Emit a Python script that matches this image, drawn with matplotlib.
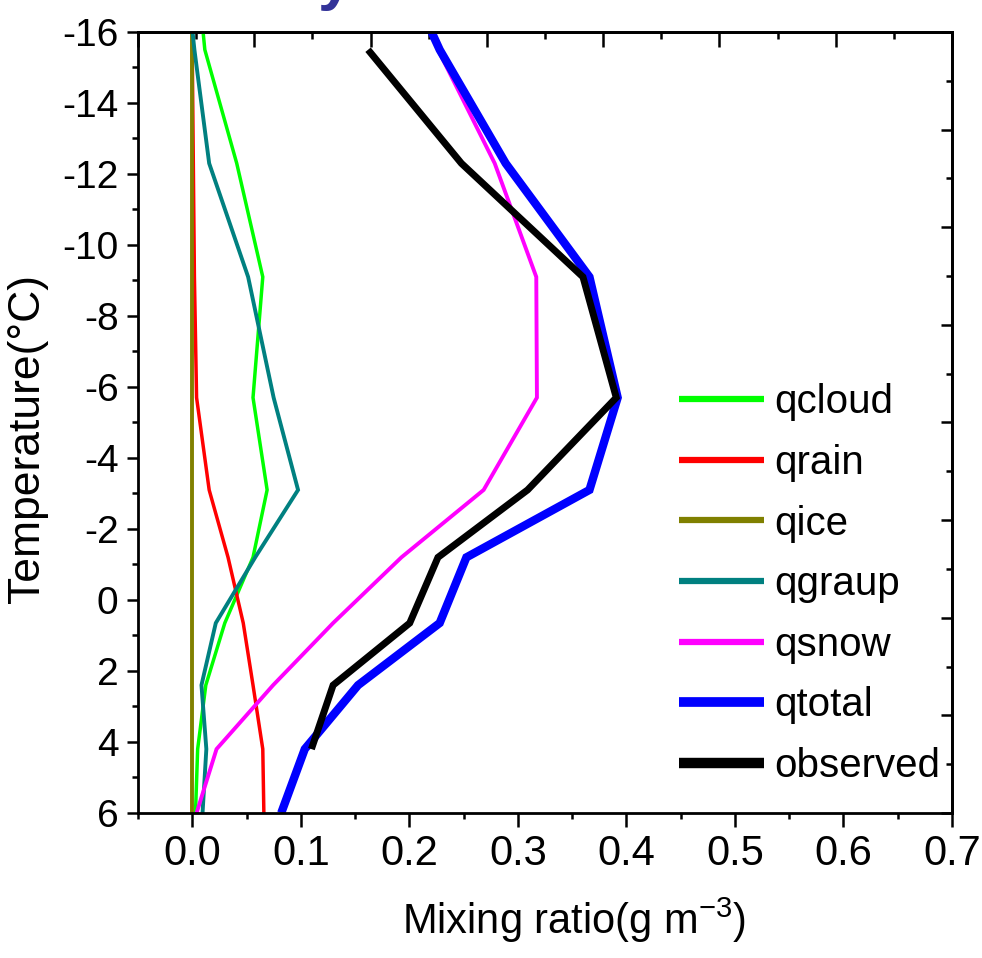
import matplotlib
matplotlib.use("Agg")
import matplotlib.pyplot as plt
from matplotlib.ticker import MultipleLocator

plt.rcParams['font.family'] = ['Liberation Sans', 'DejaVu Sans']
plt.rcParams['axes.unicode_minus'] = False
plt.rcParams['mathtext.fontset'] = 'custom'
plt.rcParams['mathtext.rm'] = 'Liberation Sans'
plt.rcParams['mathtext.it'] = 'Liberation Sans'

# temperature levels (deg C) of the model profiles and the observation
temp_model = [-16, -15.5, -12.3, -9.1, -5.7, -3.1, -1.2, 0.65, 2.4, 4.2, 6]
temp_obs = [-15.5, -12.3, -9.1, -5.7, -3.1, -1.2, 0.65, 2.4, 4.2]

qcloud = [0.010, 0.0116, 0.041, 0.065, 0.056, 0.069, 0.056, 0.030, 0.0125, 0.005, 0.003]
qrain = [0.0, 0.0, 0.001, 0.002, 0.004, 0.0156, 0.033, 0.047, 0.056, 0.065, 0.066]
qice = [0.0, 0.0, 0.0, 0.0, 0.0, 0.0, 0.0, 0.0, 0.0, 0.0, 0.0]
qgraup = [0.0003, 0.002, 0.0156, 0.0515, 0.075, 0.0975, 0.058, 0.0217, 0.0085, 0.013, 0.0095]
qsnow = [0.2205, 0.2265, 0.2787, 0.317, 0.3176, 0.2685, 0.1927, 0.1298, 0.0745, 0.0224, 0.004]
qtotal = [0.2205, 0.228, 0.2888, 0.366, 0.392, 0.366, 0.2526, 0.228, 0.1528, 0.1037, 0.082]
observed = [0.162, 0.248, 0.36, 0.3907, 0.309, 0.2264, 0.2004, 0.1298, 0.1098]

fig = plt.figure(figsize=(9.82, 9.58), dpi=100)
ax = fig.add_axes([0.1405, 0.1514, 0.8289, 0.8152])

kw = dict(solid_joinstyle='miter', solid_capstyle='butt')
ax.plot(qcloud, temp_model, color='#00ff00', lw=2.5, label='qcloud', **kw)
ax.plot(qrain, temp_model, color='#ff0000', lw=2.5, label='qrain', **kw)
ax.plot(qice, temp_model, color='#808000', lw=2.8, label='qice', **kw)
ax.plot(qgraup, temp_model, color='#008080', lw=2.8, label='qgraup', **kw)
ax.plot(qsnow, temp_model, color='#ff00ff', lw=2.8, label='qsnow', **kw)
ax.plot(qtotal, temp_model, color='#0000ff', lw=6, label='qtotal', **kw)
ax.plot(observed, temp_obs, color='black', lw=5, label='observed', **kw)

ax.set_xlim(-0.05, 0.7)
ax.set_ylim(6, -16)
ax.xaxis.set_major_locator(MultipleLocator(0.1))
ax.xaxis.set_minor_locator(MultipleLocator(0.05))
ax.yaxis.set_major_locator(MultipleLocator(2))
ax.yaxis.set_minor_locator(MultipleLocator(1))

for s in ax.spines.values():
    s.set_linewidth(2)
ax.tick_params(axis='x', which='major', direction='out', length=10, width=1.8,
               labelsize=30, pad=5, top=False)
ax.tick_params(axis='x', which='minor', direction='out', length=4.5, width=1.8, top=False)
ax.tick_params(axis='y', which='major', direction='out', length=8, width=1.8,
               labelsize=28, pad=6, right=False)
ax.tick_params(axis='y', which='minor', direction='out', length=4.5, width=1.8, right=False)

# top and right axes of the original have their own inward tick scales
top = ax.secondary_xaxis('top', functions=(lambda x: (x + 0.05) * 7 / 0.75,
                                           lambda u: u * 0.75 / 7 - 0.05))
top.xaxis.set_major_locator(MultipleLocator(1))
top.xaxis.set_minor_locator(MultipleLocator(0.5))
top.tick_params(which='major', direction='in', length=11, width=1.8, labeltop=False)
top.tick_params(which='minor', direction='in', length=5, width=1.8)
top.spines['top'].set_linewidth(2)

right = ax.secondary_yaxis('right', functions=(lambda t: (6 - t) * 8 / 22,
                                               lambda u: 6 - u * 22 / 8))
right.yaxis.set_major_locator(MultipleLocator(1))
right.yaxis.set_minor_locator(MultipleLocator(0.5))
right.tick_params(which='major', direction='in', length=8, width=1.8, labelright=False)
right.tick_params(which='minor', direction='in', length=4, width=1.8)
right.spines['right'].set_linewidth(2)

ax.set_xlabel('Mixing ratio(g m$^{-3}$)', fontsize=30)
ax.xaxis.set_label_coords(0.536, -0.106)
ax.set_ylabel('Temperature(°C)', fontsize=32)
ax.yaxis.set_label_coords(-0.110, 0.48)

leg = ax.legend(loc='upper left', bbox_to_anchor=(0.665, 0.550), frameon=False,
                fontsize=29, handlelength=2.1, handletextpad=0.27,
                labelspacing=0.56, borderpad=0, borderaxespad=0)
for line, lw in zip(leg.get_lines(), [4.5, 4.5, 4.5, 4.5, 4.5, 7, 7.5]):
    line.set_linewidth(lw)

# cut-off fragment of the title above the chart
fig.text(352 / 982, 1.002, 'y', color='#333399', fontsize=45, fontweight='bold',
         ha='right', va='baseline')

fig.savefig('out.png', dpi=100)
